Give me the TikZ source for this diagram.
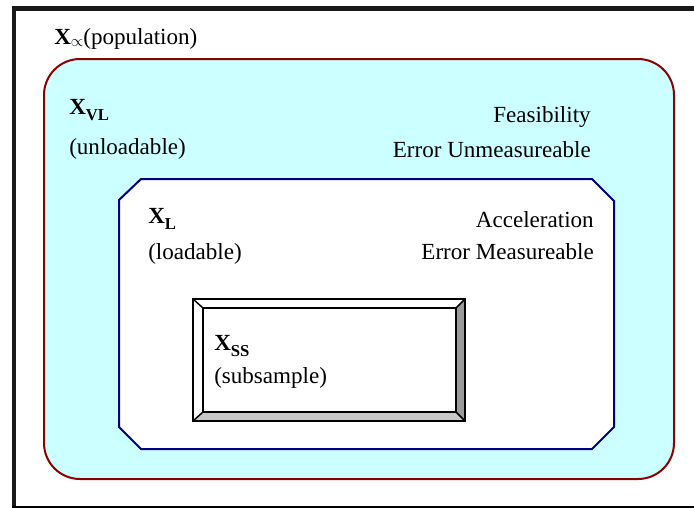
\documentclass[tikz,border=0pt]{standalone}
\usepackage{fontspec}
\setmainfont{Liberation Serif}
\definecolor{popred}{HTML}{8B0000}
\definecolor{popfill}{HTML}{CCFFFF}
\definecolor{popnavy}{HTML}{000080}
\definecolor{bevdark}{HTML}{999999}
\definecolor{bevlight}{HTML}{C8C8C8}
\newcommand{\subx}[1]{\raisebox{-5pt}{\fontsize{12.5}{14}\selectfont\textbf{#1}}}
\begin{document}
\begin{tikzpicture}[x=0.75pt,y=-0.75pt,
  txt/.style={inner sep=0pt, font=\fontsize{17.3}{20}\selectfont},
  lefttxt/.style={txt, anchor=base west},
  righttxt/.style={txt, anchor=base east},
  frameline/.style={line width=3.2pt, black!90},
  outerbox/.style={draw=popred, fill=popfill, line width=1.5pt, rounded corners=27pt},
  octbox/.style={draw=popnavy, fill=white, line width=1.5pt},
  bevline/.style={draw=black, line width=1.1pt, line join=miter}]
\useasboundingbox (0,0) rectangle (694,508);
% frame
\draw[frameline] (12,8.5) -- (694,8.5);
\draw[frameline] (14,8) -- (14,508);
\draw[line width=1.1pt] (12,507) -- (694,507);
% outer rounded region
\draw[outerbox] (44,59) rectangle (674,479);
% octagon
\draw[octbox] (141,179) -- (592,179) -- (614,201) -- (614,427) -- (592,449) -- (141,449) -- (119,427) -- (119,200) -- cycle;
% bevel box
\coordinate (o1) at (193,299); \coordinate (o2) at (465,299);
\coordinate (o3) at (465,421); \coordinate (o4) at (193,421);
\coordinate (i1) at (203,308); \coordinate (i2) at (456,308);
\coordinate (i3) at (456,412); \coordinate (i4) at (203,412);
\fill[white] (o1) -- (o2) -- (i2) -- (i1) -- cycle;
\fill[white] (o1) -- (i1) -- (i4) -- (o4) -- cycle;
\fill[bevdark] (o2) -- (o3) -- (i3) -- (i2) -- cycle;
\fill[bevlight] (o4) -- (i4) -- (i3) -- (o3) -- cycle;
\fill[white] (i1) rectangle (i3);
\draw[bevline] (o1) rectangle (o3);
\draw[bevline] (i1) rectangle (i3);
\draw[bevline] (o1) -- (i1) (o2) -- (i2) (o3) -- (i3) (o4) -- (i4);
% texts
\node[lefttxt] (pop) at (54,44) {\textbf{X}\raisebox{-1.5pt}{$\scriptstyle\propto$}(population)};
\node[lefttxt] (xvl) at (69,114) {\textbf{X}\subx{VL}};
\node[lefttxt] (unl) at (69,154) {(unloadable)};
\node[righttxt] (feas) at (591,122) {Feasibility};
\node[righttxt] (errun) at (591,157) {Error Unmeasureable};
\node[lefttxt] (xl) at (148,223) {\textbf{X}\subx{L}};
\node[lefttxt] (load) at (148,259) {(loadable)};
\node[righttxt] (acc) at (594,227) {Acceleration};
\node[righttxt] (errm) at (594,259) {Error Measureable};
\node[lefttxt] (xss) at (214,350) {\textbf{X}\subx{SS}};
\node[lefttxt] (sub) at (214,383) {(subsample)};
\end{tikzpicture}
\end{document}
